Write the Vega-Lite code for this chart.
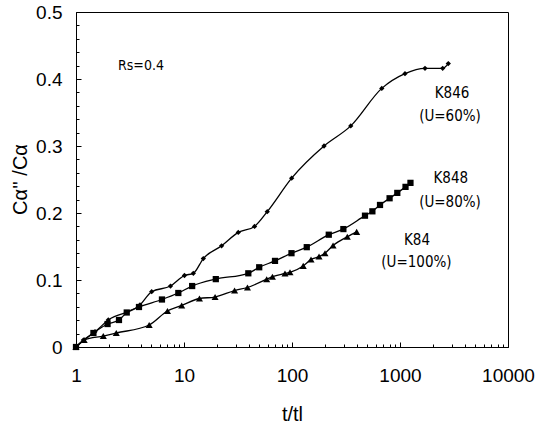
{
  "$schema": "https://vega.github.io/schema/vega-lite/v6.json",
  "width": 432,
  "height": 335,
  "autosize": {"type": "none"},
  "padding": {"left": 76, "top": 12, "right": 30, "bottom": 78},
  "background": "white",
  "config": {
    "view": {"stroke": "black", "strokeWidth": 1},
    "font": "Liberation Sans",
    "axis": {"grid": false, "domainColor": "black", "tickColor": "black", "labelColor": "black", "titleColor": "black", "labelFont": "Liberation Sans", "titleFont": "Liberation Sans", "labelFontSize": 19, "titleFontSize": 20, "titleFontWeight": "normal", "labelOverlap": false, "labelFlush": false}
  },
  "datasets": {
    "pts": [
      {"series": "K846", "t": 1, "c": 0},
      {"series": "K846", "t": 1.17, "c": 0.0104},
      {"series": "K846", "t": 1.5, "c": 0.0228},
      {"series": "K846", "t": 1.99, "c": 0.0403},
      {"series": "K846", "t": 3.91, "c": 0.0627},
      {"series": "K846", "t": 5.02, "c": 0.0825},
      {"series": "K846", "t": 7.5, "c": 0.091},
      {"series": "K846", "t": 10.1, "c": 0.1067},
      {"series": "K846", "t": 12.2, "c": 0.11},
      {"series": "K846", "t": 15.1, "c": 0.132},
      {"series": "K846", "t": 22.3, "c": 0.151},
      {"series": "K846", "t": 31.8, "c": 0.171},
      {"series": "K846", "t": 45, "c": 0.18},
      {"series": "K846", "t": 59, "c": 0.202},
      {"series": "K846", "t": 99.3, "c": 0.252},
      {"series": "K846", "t": 198, "c": 0.3},
      {"series": "K846", "t": 350, "c": 0.33},
      {"series": "K846", "t": 678, "c": 0.386},
      {"series": "K846", "t": 1112, "c": 0.408},
      {"series": "K846", "t": 1704, "c": 0.416},
      {"series": "K846", "t": 2485, "c": 0.416},
      {"series": "K846", "t": 2800, "c": 0.423},
      {"series": "K848", "t": 1, "c": 0},
      {"series": "K848", "t": 1.45, "c": 0.0209},
      {"series": "K848", "t": 1.96, "c": 0.0343},
      {"series": "K848", "t": 2.5, "c": 0.0403},
      {"series": "K848", "t": 2.95, "c": 0.0515},
      {"series": "K848", "t": 3.83, "c": 0.0597},
      {"series": "K848", "t": 6.25, "c": 0.0709},
      {"series": "K848", "t": 8.86, "c": 0.0806},
      {"series": "K848", "t": 11.9, "c": 0.091},
      {"series": "K848", "t": 19.7, "c": 0.1013},
      {"series": "K848", "t": 39.4, "c": 0.11},
      {"series": "K848", "t": 49.7, "c": 0.119},
      {"series": "K848", "t": 69.6, "c": 0.1285},
      {"series": "K848", "t": 98.9, "c": 0.14},
      {"series": "K848", "t": 137, "c": 0.149},
      {"series": "K848", "t": 219, "c": 0.1676},
      {"series": "K848", "t": 299, "c": 0.176},
      {"series": "K848", "t": 474, "c": 0.196},
      {"series": "K848", "t": 555, "c": 0.2025},
      {"series": "K848", "t": 653, "c": 0.212},
      {"series": "K848", "t": 801, "c": 0.222},
      {"series": "K848", "t": 944, "c": 0.23},
      {"series": "K848", "t": 1125, "c": 0.239},
      {"series": "K848", "t": 1250, "c": 0.245},
      {"series": "K84", "t": 1, "c": 0},
      {"series": "K84", "t": 1.19, "c": 0.0104},
      {"series": "K84", "t": 1.79, "c": 0.0164},
      {"series": "K84", "t": 2.36, "c": 0.0209},
      {"series": "K84", "t": 4.76, "c": 0.0328},
      {"series": "K84", "t": 7.03, "c": 0.0537},
      {"series": "K84", "t": 9.52, "c": 0.062},
      {"series": "K84", "t": 13.9, "c": 0.0724},
      {"series": "K84", "t": 19.4, "c": 0.0746},
      {"series": "K84", "t": 29.4, "c": 0.0843},
      {"series": "K84", "t": 38.7, "c": 0.0888},
      {"series": "K84", "t": 58.3, "c": 0.1012},
      {"series": "K84", "t": 65.9, "c": 0.1049},
      {"series": "K84", "t": 86.1, "c": 0.1097},
      {"series": "K84", "t": 95.8, "c": 0.1115},
      {"series": "K84", "t": 127, "c": 0.121},
      {"series": "K84", "t": 150, "c": 0.1306},
      {"series": "K84", "t": 178, "c": 0.135},
      {"series": "K84", "t": 202, "c": 0.14},
      {"series": "K84", "t": 240, "c": 0.1515},
      {"series": "K84", "t": 325, "c": 0.1646},
      {"series": "K84", "t": 397, "c": 0.1719}
    ],
    "seriesLabels": [
      {"t": 3030, "c": 0.379, "text": "K846"},
      {"t": 2904, "c": 0.345, "text": "(U=60%)"},
      {"t": 2950, "c": 0.252, "text": "K848"},
      {"t": 2904, "c": 0.2164, "text": "(U=80%)"},
      {"t": 1437, "c": 0.16, "text": "K84"},
      {"t": 1420, "c": 0.127, "text": "(U=100%)"}
    ],
    "note": [
      {"t": 2.45, "c": 0.419, "text": "Rs=0.4"}
    ]
  },
  "resolve": {"axis": {"x": "independent", "y": "independent"}},
  "layer": [
    {
      "data": {"name": "pts"},
      "mark": {"type": "line", "interpolate": "monotone", "color": "black", "strokeWidth": 1.3},
      "encoding": {
        "x": {"field": "t", "type": "quantitative",
          "scale": {"type": "log", "domain": [1, 10000], "nice": false},
          "axis": {"orient": "bottom", "values": [1, 10, 100, 1000, 10000],
            "format": "d",
            "tickSize": -5, "labelPadding": 24,
            "title": "t/tl", "titleY": 73, "titleBaseline": "alphabetic"}},
        "y": {"field": "c", "type": "quantitative",
          "scale": {"domain": [0, 0.5], "nice": false, "zero": true},
          "axis": {"orient": "left", "values": [0, 0.1, 0.2, 0.3, 0.4, 0.5],
            "format": "~g",
            "tickSize": -5, "labelPadding": 19,
            "title": "Cα'' /Cα", "titleX": -56, "titleY": 167, "titleAngle": -90, "titleAlign": "center", "titleBaseline": "middle"}},
        "detail": {"field": "series"}
      }
    },
    {
      "data": {"name": "pts"},
      "mark": {"type": "point", "filled": true, "color": "black", "opacity": 1},
      "encoding": {
        "x": {"field": "t", "type": "quantitative",
          "axis": {"orient": "bottom", "values": [2, 3, 4, 5, 6, 7, 8, 9, 20, 30, 40, 50, 60, 70, 80, 90, 200, 300, 400, 500, 600, 700, 800, 900, 2000, 3000, 4000, 5000, 6000, 7000, 8000, 9000],
            "labels": false, "domain": false, "tickSize": -3, "title": null}},
        "y": {"field": "c", "type": "quantitative",
          "axis": {"orient": "left", "values": [0.02, 0.04, 0.06, 0.08, 0.12, 0.14, 0.16, 0.18, 0.22, 0.24, 0.26, 0.28, 0.32, 0.34, 0.36, 0.38, 0.42, 0.44, 0.46, 0.48],
            "labels": false, "domain": false, "tickSize": -3, "title": null}},
        "shape": {"field": "series", "type": "nominal", "scale": {"domain": ["K846", "K848", "K84"], "range": ["diamond", "square", "triangle-up"]}, "legend": null},
        "size": {"field": "series", "type": "nominal", "scale": {"domain": ["K846", "K848", "K84"], "range": [28, 50, 40]}, "legend": null}
      }
    },
    {
      "data": {"name": "seriesLabels"},
      "mark": {"type": "text", "font": "DejaVu Sans Condensed, Liberation Sans, sans-serif", "fontSize": 15, "align": "center", "baseline": "middle", "color": "black"},
      "encoding": {
        "x": {"field": "t", "type": "quantitative", "axis": null},
        "y": {"field": "c", "type": "quantitative", "axis": null},
        "text": {"field": "text"}
      }
    },
    {
      "data": {"name": "note"},
      "mark": {"type": "text", "font": "DejaVu Sans Condensed, Liberation Sans, sans-serif", "fontSize": 14, "align": "left", "baseline": "middle", "color": "black"},
      "encoding": {
        "x": {"field": "t", "type": "quantitative", "axis": null},
        "y": {"field": "c", "type": "quantitative", "axis": null},
        "text": {"field": "text"}
      }
    }
  ]
}
